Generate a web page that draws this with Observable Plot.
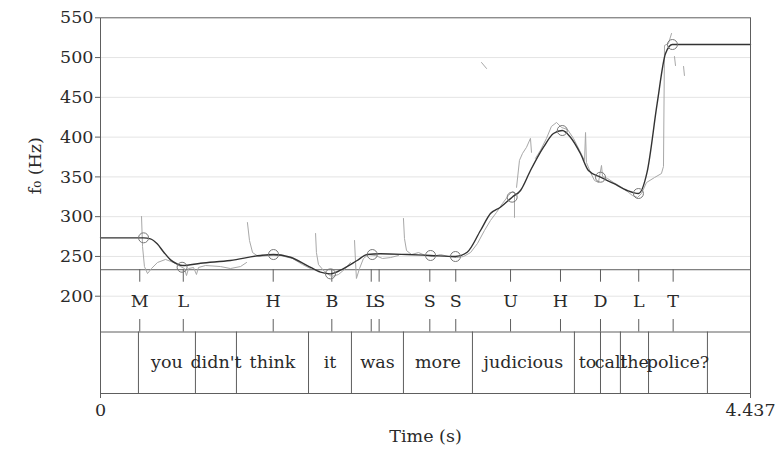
<!DOCTYPE html>
<html><head><meta charset="utf-8">
<script src="https://cdn.jsdelivr.net/npm/d3@7"></script>
<script src="https://cdn.jsdelivr.net/npm/@observablehq/plot@0.6"></script>
<style>body{margin:0;background:#fff}svg{display:block}</style>
</head><body><div id="chart"></div>
<script>
// ---- axis ticks ----
const yTicks = [200, 250, 300, 350, 400, 450, 500, 550];
const gridHz = [200, 250, 300, 350, 400, 450, 500];
const xTickValues = [0, 4.437];

// ---- tone tier ----
const toneT = [0.268, 0.565, 1.179, 1.579, 1.848, 1.902, 2.248, 2.425, 2.799, 3.140, 3.413, 3.674, 3.909];
const toneLabel = ["M", "L", "H", "B", "L", "S", "S", "S", "U", "H", "D", "L", "T"];

// ---- pitch targets (circles) ----
const targetT  = [0.294, 0.557, 1.181, 1.570, 1.855, 2.253, 2.423, 2.810, 3.152, 3.413, 3.672, 3.904];
const targetHz = [273.4, 236.4, 252.4, 228.1, 252.4, 251.2, 249.9, 324.5, 408.3, 349.6, 329.1, 516.4];

// ---- word tier ----
const wordBounds = [0.259, 0.648, 0.928, 1.420, 1.713, 2.068, 2.539, 3.235, 3.413, 3.549, 3.741, 4.143];
const wordText = ["", "you", "didn't", "think", "it", "was", "more", "judicious", "to", "call", "the", "police?", ""];

// ---- stylised (model) f0 curve ----
const modelT  = [0, 0.294, 0.341, 0.387, 0.432, 0.478, 0.523, 0.560, 0.683, 0.887, 1.092, 1.181, 1.297, 1.411, 1.502, 1.570, 1.659, 1.752, 1.820, 1.911, 2.093, 2.253, 2.423, 2.503, 2.594, 2.662, 2.730, 2.810, 2.867, 2.935, 3.024, 3.092, 3.152, 3.208, 3.276, 3.331, 3.413, 3.502, 3.595, 3.672, 3.731, 3.800, 3.857, 3.904, 4.437];
const modelHz = [273.4, 273.4, 272.1, 265.9, 255.3, 245.7, 240.7, 238.6, 241.5, 244.9, 251.2, 252.4, 249.0, 238.6, 230.2, 228.1, 234.8, 244.9, 252.4, 253.3, 252.4, 251.2, 249.9, 255.3, 282.6, 304.0, 311.9, 324.5, 332.9, 358.0, 387.3, 404.5, 408.3, 399.9, 379.4, 358.0, 349.6, 341.7, 332.9, 329.1, 355.9, 442.3, 505.1, 516.4, 516.4];

// ---- raw f0 track, voiced stretches as [time, Hz] ----
const rawSegments = [
  [[0.280,300.2],[0.287,262.5],[0.300,237.3],[0.321,228.5],[0.348,234.8],[0.389,242.4],[0.444,246.2],[0.498,242.4],[0.546,237.3],[0.573,234.8],[0.587,226.0],[0.601,234.8],[0.635,236.1],[0.655,227.3],[0.669,236.1],[0.717,238.6],[0.819,237.3],[0.887,234.8],[0.956,237.3],[0.997,242.4]],
  [[1.003,292.6],[1.017,270.0],[1.038,254.9],[1.078,249.9],[1.147,251.2],[1.229,251.2],[1.311,247.4],[1.379,239.8],[1.433,234.8]],
  [[1.468,278.8],[1.474,254.9],[1.488,239.8],[1.529,231.0],[1.577,224.7],[1.625,227.3],[1.672,234.8],[1.706,242.4]],
  [[1.734,270.0],[1.741,242.4],[1.747,222.3],[1.768,234.8],[1.795,247.4],[1.829,252.4],[1.877,251.2],[1.925,247.4],[1.980,248.6],[2.034,251.2]],
  [[2.068,297.7],[2.075,272.5],[2.089,257.4],[2.123,252.4],[2.171,254.9],[2.218,251.2],[2.266,249.9],[2.321,252.4],[2.375,249.9],[2.430,248.6],[2.478,249.9],[2.526,254.9],[2.573,266.2],[2.621,282.6],[2.662,295.2],[2.703,305.3],[2.744,316.6],[2.785,326.6],[2.812,331.7],[2.826,330.5],[2.826,299.1]],
  [[2.840,336.9],[2.860,370.8],[2.881,379.6],[2.908,387.2],[2.935,398.5],[2.942,380.9]],
  [[2.969,373.3],[3.003,383.3],[3.044,398.3],[3.078,413.4],[3.113,418.4],[3.147,412.1],[3.188,409.6],[3.229,398.3],[3.270,383.3],[3.304,370.6],[3.311,405.8],[3.317,368.1],[3.345,355.5],[3.372,345.5],[3.399,343.0],[3.420,364.4],[3.427,350.5],[3.461,348.0],[3.502,343.0],[3.549,337.9],[3.597,331.6],[3.631,326.6],[3.666,324.1],[3.693,329.1],[3.727,342.9],[3.782,349.2],[3.829,354.2],[3.843,363.1],[3.850,515.2],[3.877,517.7],[3.898,530.3]],
  [[3.918,501.3],[3.925,490.0]],
  [[3.980,488.8],[3.986,477.5]],
  [[2.601,493.8],[2.635,486.3]]
];

// ---- layout (in Hz units of the shared vertical scale) ----
const Y_MIN = 77.7, Y_MAX = 550;
const TONE_TOP = 233.3, TIER_SPLIT = 155;
const TONE_TICK_A = 217.6, TONE_TICK_B = 170.7;
const TONE_LABEL_Y = 193.3, WORD_LABEL_Y = 116.6, YLABEL_AT = 364;

const raw = rawSegments.flatMap((s, k) => s.map(([t, hz]) => ({t, hz, seg: k})));
const model = modelT.map((t, i) => ({t, hz: modelHz[i]}));
const targets = targetT.map((t, i) => ({t, hz: targetHz[i]}));
const edges = [0, ...wordBounds, 4.437];
const words = wordText.map((w, i) => ({w, mid: (edges[i] + edges[i + 1]) / 2})).filter(d => d.w);

const lineCol = "#5e5e5e";
const chart = Plot.plot({
  width: 780, height: 453,
  marginLeft: 100, marginRight: 30, marginTop: 17.3, marginBottom: 60,
  style: {fontFamily: "'DejaVu Serif', serif", fontSize: "17.5px", color: "#2a2a2a", background: "#fff"},
  x: {domain: [0, 4.437]},
  y: {domain: [Y_MIN, Y_MAX]},
  marks: [
    Plot.ruleY(gridHz, {stroke: "#e4e4e4"}),
    Plot.ruleY([TONE_TOP, TIER_SPLIT], {stroke: lineCol}),
    Plot.ruleX(wordBounds, {y1: TIER_SPLIT, y2: Y_MIN, stroke: lineCol}),
    Plot.ruleX(toneT, {y1: TONE_TOP, y2: TONE_TICK_A, stroke: lineCol}),
    Plot.ruleX(toneT, {y1: TONE_TICK_B, y2: TIER_SPLIT, stroke: lineCol}),
    Plot.text(toneLabel, {x: toneT, y: TONE_LABEL_Y, text: d => d, fill: "#2a2a2a"}),
    Plot.text(words, {x: "mid", y: WORD_LABEL_Y, text: "w", fill: "#2a2a2a"}),
    Plot.line(raw, {x: "t", y: "hz", z: "seg", stroke: "#a8a8a8", strokeWidth: 1}),
    Plot.line(model, {x: "t", y: "hz", curve: "monotone-x", stroke: "#333", strokeWidth: 1.4}),
    Plot.dot(targets, {x: "t", y: "hz", r: 5, stroke: "#777", fill: "none", strokeWidth: 1}),
    Plot.frame({stroke: lineCol}),
    Plot.axisY({ticks: yTicks, tickSize: 5, tickPadding: 2, label: null, stroke: lineCol}),
    Plot.axisX({ticks: xTickValues, tickSize: 5, tickPadding: 5, tickFormat: d => `${d}`, label: null, stroke: lineCol}),
    Plot.text(["Time (s)"], {frameAnchor: "bottom", dy: 48, fill: "#2a2a2a"}),
    Plot.text(["f₀ (Hz)"], {x: 0, y: YLABEL_AT, dx: -65, rotate: -90, fill: "#2a2a2a"})
  ]
});
document.getElementById("chart").appendChild(chart);
</script>
</body></html>
